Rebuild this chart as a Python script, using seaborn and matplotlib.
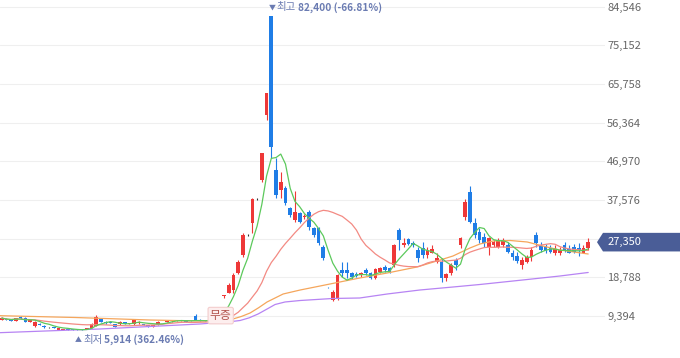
import numpy as np
import pandas as pd
import matplotlib
matplotlib.use('Agg')
import matplotlib.pyplot as plt
import seaborn as sns
from matplotlib.patches import Polygon
from matplotlib.transforms import IdentityTransform

# 일봉 시세 (125개 캔들, 화면에서 읽은 값)
opens = [8550, 8680, 8550, 8190, 9160, 8900, 7950, 6970, 7460, 7050,
         6730, 6650, 6000, 6080, 6245, 6170, 6170, 6245, 6245, 6500,
         7050, 8600, 8020, 7800, 7390, 7390, 7950, 7460, 7390, 7630,
         7460, 7220, 6800, 7220, 8190, 7950, 8100, 8200, 8300, 8430,
         8300, 9500, 8500, 8450, 8300, 8200, 9100, 14400, 15000, 15700,
         19800, 24200, 29100, 31900, 37800, 42450, 58300, 82400, 44900, 40000,
         40450, 35600, 32700, 34350, 33400, 34750, 30700, 30700, 26250, 16450,
         13300, 13700, 20600, 20600, 19800, 19550, 19350, 20600, 19800, 18550,
         20150, 21400, 21000, 21800, 30300, 26650, 28050, 27200, 25450, 25850,
         24200, 24800, 22600, 22600, 18550, 19800, 23000, 26650, 33400, 39600,
         31900, 29900, 28700, 26250, 26650, 26250, 26650, 26650, 24600, 24000,
         21800, 22600, 23650, 29100, 26400, 26100, 25850, 24650, 24650, 26650,
         25600, 26100, 25850, 24800, 25850]
highs = [9050, 8800, 8650, 9000, 9350, 9050, 8550, 8100, 7600, 7150,
         6850, 6750, 6500, 6350, 6350, 6250, 6200, 6300, 6550, 7650,
         9650, 8750, 8100, 7900, 7500, 8150, 8050, 7750, 8650, 8150,
         7550, 7300, 7300, 8150, 8300, 8350, 8350, 8450, 8550, 8550,
         8400, 9900, 8600, 8550, 8400, 9100, 10800, 14500, 17500, 19850,
         23000, 29600, 29300, 38000, 38000, 49100, 63700, 82400, 47800, 44500,
         40900, 36000, 39850, 34700, 34100, 35150, 31100, 31100, 26650, 16500,
         15700, 19500, 22600, 22600, 20200, 20000, 20200, 21000, 20200, 21000,
         21400, 21800, 21400, 26900, 30700, 28300, 28450, 27600, 26250, 27450,
         26250, 26650, 24600, 23400, 19950, 22200, 23400, 28700, 37800, 41000,
         33150, 30700, 29500, 28700, 27850, 28300, 28300, 27450, 25450, 25050,
         23650, 24200, 26250, 29900, 27450, 26900, 26650, 26650, 26100, 27450,
         26650, 26900, 27200, 26650, 28300]
lows = [8450, 8350, 8200, 8100, 8750, 7850, 7850, 6850, 7100, 6550,
        6600, 6400, 5950, 6000, 6050, 5950, 5914, 5990, 6200, 6400,
        6950, 7950, 7550, 7600, 6700, 7300, 7400, 7400, 7300, 7550,
        7150, 6700, 6750, 7150, 8100, 7900, 8050, 8150, 8250, 7950,
        8100, 8400, 8300, 8300, 8050, 8150, 9000, 13700, 14900, 15000,
        19500, 23800, 28900, 29500, 37600, 42000, 57000, 47700, 38100, 38000,
        36300, 33500, 32300, 31900, 33000, 30300, 28700, 26650, 23000, 16200,
        13000, 13300, 18950, 18550, 18500, 18800, 19000, 19350, 18300, 18300,
        19800, 20150, 19900, 21400, 25450, 26250, 26650, 26250, 22600, 23400,
        23400, 24600, 22200, 17700, 17950, 19350, 20600, 25850, 32700, 31900,
        28300, 27050, 26250, 24200, 26250, 25850, 26250, 24600, 23000, 22200,
        20750, 22200, 22850, 26250, 25050, 24800, 24600, 24200, 24200, 25050,
        24600, 24600, 24000, 24600, 25450]
closes = [8900, 8430, 8310, 8900, 8840, 7950, 8430, 7950, 7220, 6650,
          6730, 6490, 6410, 6245, 6120, 5950, 5960, 6050, 6490, 7550,
          9250, 8020, 7630, 7700, 6800, 8020, 7460, 7630, 8430, 8020,
          7220, 6800, 7220, 8020, 8190, 8260, 8250, 8350, 8450, 8020,
          8150, 8500, 8350, 8350, 8150, 9000, 10800, 14500, 16900, 19400,
          22600, 29100, 29100, 37800, 37800, 48950, 63500, 50500, 38800, 42000,
          36800, 33950, 34750, 32300, 33700, 31100, 29100, 27050, 23400, 16400,
          15300, 19350, 19800, 19800, 18800, 19150, 19800, 19800, 18550, 20750,
          21000, 20600, 20150, 26650, 27850, 27200, 26900, 26650, 23400, 24200,
          25450, 25600, 23400, 18550, 19600, 21800, 21800, 28300, 37000, 32300,
          29100, 27850, 27050, 28300, 27450, 27850, 27850, 25050, 23650, 22850,
          23000, 23650, 25450, 27050, 25450, 25300, 25050, 25600, 25450, 25450,
          24800, 25050, 25450, 25850, 27350]

# 60일 / 120일 이동평균선 (화면에서 읽은 점)
ma60_idx = [-0.4, 15.5, 31.4, 41.9, 46.2, 48.9, 50.7, 52.5, 54.3, 56.1, 59.5, 63.1, 67.3, 71.5,
            75.7, 81.5, 87.8, 92.0, 95.4, 99.0, 101.1, 103.9, 107.5, 111.1, 114.4, 118.0, 124.0]
ma60_val = [9480, 9040, 8430, 8190, 8310, 8680, 9300, 10130, 11400, 12810, 14750, 15720, 16690, 17670,
            18640, 19850, 21310, 22770, 23980, 25930, 26900, 27630, 27750, 27390, 26410, 25440, 24470]
ma120_idx = [-0.4, 20.8, 41.9, 48.3, 50.4, 52.3, 54.2, 56.1, 57.8, 59.9, 63.1, 70.0, 75.7,
             81.5, 88.4, 95.4, 101.1, 111.1, 118.0, 124.0]
ma120_val = [5350, 6250, 7460, 8020, 8310, 8950, 9890, 11100, 12200, 12810, 13170, 13660, 13780,
             14750, 15720, 16450, 17060, 18270, 19120, 19980]

yticks = [9394, 18788, 28182, 37576, 46970, 56364, 65758, 75152, 84546]
hi_idx, hi_txt = 57, '82,400 (-66.81%)'
lo_idx, lo_txt = 16, '5,914 (362.46%)'
event_idx, event_txt = 46, '무증'

RED = '#ee3838'
BLUE = '#1f7de6'
DOJI = '#333333'
LABEL = '#6a7bb2'

sns.set_theme(style='white')
plt.rcParams['font.family'] = ['Noto Sans CJK KR', 'DejaVu Sans']

df = pd.DataFrame({'open': opens, 'high': highs, 'low': lows, 'close': closes})
df['idx'] = np.arange(len(df))
df['ma5'] = df['close'].rolling(5, min_periods=1).mean()
df['ma20'] = df['close'].rolling(20, min_periods=1).mean()

fig = plt.figure(figsize=(6.8, 3.58), dpi=100)
ax = fig.add_axes([0, 0, 605 / 680, 1])
ax.set_xlim(-0.36, 127.55)
ax.set_ylim(-802, 86192)

# 캔들
col = np.where(df.close > df.open, RED, np.where(df.close < df.open, BLUE, DOJI))
body = (df.close - df.open).abs()
body_h = np.maximum(body, 160)
bottom = np.minimum(df.open, df.close) - (body_h - body) / 2
ax.vlines(df.idx, df.low, df.high, colors=col, lw=0.8, zorder=2)
ax.bar(df.idx, body_h, bottom=bottom, width=0.78, color=col, linewidth=0, zorder=3)

# 이동평균선
sns.lineplot(x=ma120_idx, y=ma120_val, ax=ax, color='#b784f3', lw=0.9, zorder=4)
sns.lineplot(x=ma60_idx, y=ma60_val, ax=ax, color='#f5a65c', lw=0.9, zorder=4)
sns.lineplot(data=df, x='idx', y='ma20', ax=ax, color='#f38a83', lw=0.9, zorder=4)
sns.lineplot(data=df, x='idx', y='ma5', ax=ax, color='#5cc95c', lw=0.9, zorder=5)

# 28,182 눈금은 현재가 배지에 가려져 있음
ax.yaxis.tick_right()
ax.set_yticks(yticks)
ax.set_yticklabels(['' if t == 28182 else f'{t:,}' for t in yticks])
ax.tick_params(axis='y', length=0, pad=1.5, labelsize=8, labelcolor='#666666')
ax.set_xticks([])
ax.set_xlabel('')
ax.set_ylabel('')
ax.grid(axis='y', color='#efefef', lw=0.8)
ax.set_axisbelow(True)
for s in ax.spines.values():
    s.set_visible(False)

# 무증 표시
ax.text(event_idx + 0.3, 9500, event_txt, ha='center', va='center', fontsize=8.5,
        color='#b3554f', zorder=7,
        bbox=dict(boxstyle='round,pad=0.15', fc='#fdeeee', ec='#f3cdcd', lw=0.8))

fig.canvas.draw()
renderer = fig.canvas.get_renderer()


def label_row(xy, parts, dx, dy):
    x_off = dx
    for txt, size, weight, gap in parts:
        t = ax.annotate(txt, xy=xy, xytext=(x_off, dy), textcoords='offset pixels',
                        ha='left', va='center', fontsize=size, fontweight=weight,
                        color=LABEL, zorder=8, annotation_clip=False)
        x_off += t.get_window_extent(renderer).width + gap


label_row((hi_idx, highs[hi_idx]), [('▼', 5, 'normal', 1), ('최고', 7.5, 'normal', 1.5),
                                    (hi_txt, 7.3, 'bold', 0)], -2.5, 8.5)
label_row((lo_idx, lows[lo_idx]), [('▲', 5, 'normal', 1.5), ('최저', 7.5, 'normal', 1.5),
                                   (lo_txt, 7.3, 'bold', 0)], -2.5, -9.5)

# 현재가 배지
yd = ax.transData.transform((0, closes[-1]))[1]
badge = Polygon([[597, yd], [603, yd + 9.3], [680, yd + 9.3], [680, yd - 9.3], [603, yd - 9.3]],
                closed=True, transform=IdentityTransform(), fc='#4a5d97', ec='none', zorder=10)
fig.add_artist(badge)
fig.text(608 / 680, yd / 358, f'{closes[-1]:,}', color='white', ha='left', va='center',
         fontsize=8, zorder=11)

fig.savefig('out.png', dpi=100)
